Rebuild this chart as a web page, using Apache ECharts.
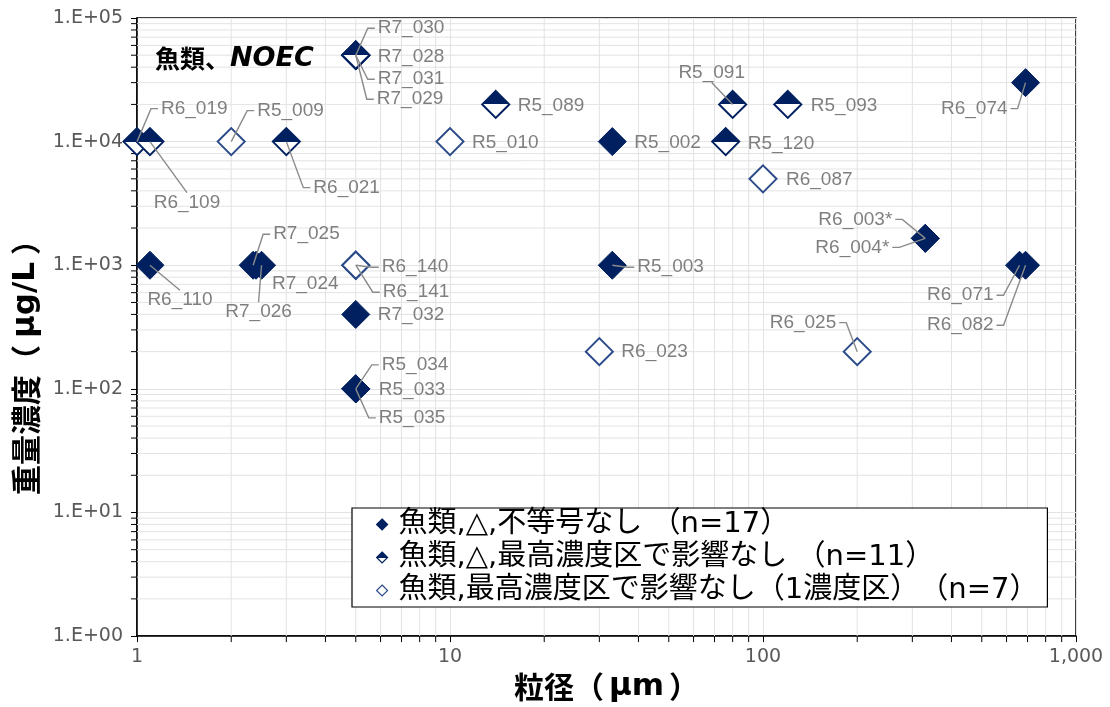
<!DOCTYPE html>
<html>
<head>
<meta charset="utf-8">
<script src="https://cdn.jsdelivr.net/npm/echarts@6/dist/echarts.min.js"></script>
<style>
html, body { margin: 0; padding: 0; background: #fff; }
#chart { width: 1110px; height: 707px; }
</style>
</head>
<body>
<div id="chart"></div>
<script>
// 魚類 NOEC: 粒径 (μm) vs 重量濃度 (μg/L)

// 不等号なし
const filledNames = ['R6_110', 'R7_025', 'R7_024', 'R7_026', 'R7_032', 'R5_034', 'R5_033', 'R5_035',
  'R5_002', 'R5_003', 'R6_074', 'R6_003*', 'R6_004*', 'R6_071', 'R6_082'];
const filledSize = [1.1, 2.35, 2.4, 2.5, 5, 5, 5, 5, 33, 33, 690, 330, 330, 660, 690];
const filledConc = [1000, 1000, 1000, 1000, 400, 100, 100, 100, 10000, 1000, 30000, 1650, 1650, 1000, 1000];

// 最高濃度区で影響なし
const halfNames = ['R6_019', 'R6_109', 'R6_021', 'R7_030', 'R7_028', 'R7_031', 'R7_029',
  'R5_089', 'R5_091', 'R5_093', 'R5_120'];
const halfSize = [1, 1.1, 3, 5, 5, 5, 5, 14, 80, 120, 76];
const halfConc = [10000, 10000, 10000, 50000, 50000, 50000, 50000, 20000, 20000, 20000, 10000];

// 最高濃度区で影響なし（1濃度区）
const openNames = ['R5_009', 'R5_010', 'R6_140', 'R6_141', 'R6_087', 'R6_023', 'R6_025'];
const openSize = [2, 10, 5, 5, 100, 30, 200];
const openConc = [10000, 10000, 1000, 1000, 5000, 200, 200];

const seriesNames = [
  '魚類,△,不等号なし （n=17）',
  '魚類,△,最高濃度区で影響なし （n=11）',
  '魚類,最高濃度区で影響なし（1濃度区）　（n=7）'
];
const xTickLabels = ['1', '10', '100', '1,000'];
const yTickLabels = ['1.E+00', '1.E+01', '1.E+02', '1.E+03', '1.E+04', '1.E+05'];

// label placement: [dx, dy, align, leader line]
const labelPlace = {
  'R6_019': [24, -33, 'left', 1],
  'R6_109': [37, 61, 'center', 1],
  'R5_009': [26, -31, 'left', 1],
  'R6_021': [27, 46, 'left', 1],
  'R7_030': [22, -27, 'left', 1],
  'R7_028': [22, 2, 'left', 0],
  'R7_031': [22, 24, 'left', 1],
  'R7_029': [21, 44, 'left', 1],
  'R5_089': [22, 1, 'left', 0],
  'R5_010': [22, 1, 'left', 0],
  'R5_002': [22, 1, 'left', 0],
  'R5_091': [-21, -32, 'center', 1],
  'R5_120': [22, 2, 'left', 0],
  'R5_093': [23, 1, 'left', 0],
  'R6_087': [23, 1, 'left', 0],
  'R6_074': [-18, 26, 'right', 1],
  'R6_003*': [-33, -19, 'right', 1],
  'R6_004*': [-36, 9, 'right', 1],
  'R6_071': [-26, 30, 'right', 1],
  'R6_082': [-32, 60, 'right', 1],
  'R6_025': [-21, -29, 'right', 1],
  'R6_110': [30, 35, 'center', 1],
  'R7_025': [20, -31, 'left', 1],
  'R7_024': [16, 19, 'left', 0],
  'R7_026': [-3, 47, 'center', 1],
  'R6_140': [26, 2, 'left', 1],
  'R6_141': [27, 27, 'left', 1],
  'R7_032': [22, 0, 'left', 0],
  'R5_034': [26, -24, 'left', 1],
  'R5_033': [23, 1, 'left', 0],
  'R5_035': [23, 29, 'left', 1],
  'R5_003': [25, 2, 'left', 1],
  'R6_023': [22, 0, 'left', 0]
};

const NAVY = '#002060';
const OPEN_EDGE = '#2b4a88';
const GRID = '#e3e3e3';

function pairs(xs, ys, names) {
  return xs.map((x, i) => ({ value: [x, ys[i]], name: names[i] }));
}

const labelItems = []
  .concat(pairs(filledSize, filledConc, filledNames))
  .concat(pairs(halfSize, halfConc, halfNames))
  .concat(pairs(openSize, openConc, openNames));

// minor gridlines / ticks at 2..9 of each decade
const minorData = [];
for (let k = 0; k < 3; k++) for (let d = 2; d <= 9; d++) minorData.push([d * Math.pow(10, k), 1, 0]);
for (let k = 0; k < 5; k++) for (let d = 2; d <= 9; d++) minorData.push([1, d * Math.pow(10, k), 1]);

function renderMinor(params, api) {
  const cs = params.coordSys;
  const p = api.coord([api.value(0), api.value(1)]);
  const bottom = cs.y + cs.height;
  if (api.value(2) === 0) {
    return { type: 'group', children: [
      { type: 'line', shape: { x1: p[0], y1: cs.y, x2: p[0], y2: bottom }, style: { stroke: GRID, lineWidth: 1 } },
      { type: 'line', shape: { x1: p[0], y1: bottom, x2: p[0], y2: bottom + 6 }, style: { stroke: '#000', lineWidth: 1 } }
    ] };
  }
  return { type: 'group', children: [
    { type: 'line', shape: { x1: cs.x, y1: p[1], x2: cs.x + cs.width, y2: p[1] }, style: { stroke: GRID, lineWidth: 1 } },
    { type: 'line', shape: { x1: cs.x - 6, y1: p[1], x2: cs.x, y2: p[1] }, style: { stroke: '#000', lineWidth: 1 } }
  ] };
}

function renderLabel(params, api) {
  const item = labelItems[params.dataIndex];
  const pl = labelPlace[item.name] || [22, 0, 'left', 0];
  const p = api.coord([api.value(0), api.value(1)]);
  const tx = p[0] + pl[0], ty = p[1] + pl[1];
  const children = [];
  if (pl[3]) {
    let pts;
    if (pl[2] === 'center') {
      pts = [p, [tx, pl[1] > 0 ? ty - 10 : ty + 10]];
    } else {
      const s = pl[2] === 'left' ? -1 : 1;
      pts = [p, [tx + s * 10, ty], [tx + s * 3, ty]];
    }
    children.push({ type: 'polyline', shape: { points: pts },
      style: { stroke: '#8a8a8a', lineWidth: 1.4, fill: null } });
  }
  children.push({ type: 'text', x: tx, y: ty,
    style: { text: item.name, fill: '#7f7f7f', font: '19px "Liberation Sans", Arial, sans-serif',
      align: pl[2], verticalAlign: 'middle' } });
  return { type: 'group', children };
}

const axisFont = { fontFamily: '"DejaVu Sans", Verdana, sans-serif', fontSize: 19, color: '#595959' };
const nameRichX = {
  c: { fontFamily: '"Noto Sans CJK JP"', fontWeight: 'bold', fontSize: 30, color: '#000' },
  l: { fontFamily: '"DejaVu Sans"', fontWeight: 'bold', fontSize: 31, color: '#000', padding: [0, 5, 0, 5] }
};
const nameRichY = {
  c: { fontFamily: '"Noto Sans CJK JP"', fontWeight: 'bold', fontSize: 30, color: '#000' },
  l: { fontFamily: '"DejaVu Sans"', fontWeight: 'bold', fontSize: 31, color: '#000', padding: [0, 7, 0, 7] }
};

const chart = echarts.init(document.getElementById('chart'));
chart.setOption({
  animation: false,
  backgroundColor: '#fff',
  title: {
    text: '{a|魚類、}{b|NOEC}',
    left: 150, top: 40,
    textStyle: { rich: {
      a: { fontFamily: '"Noto Sans CJK JP"', fontWeight: 'bold', fontSize: 25, color: '#000' },
      b: { fontFamily: '"DejaVu Sans"', fontWeight: 'bold', fontStyle: 'italic', fontSize: 27, color: '#000' }
    } }
  },
  grid: { left: 137, right: 34, top: 18, bottom: 62, show: true, borderColor: '#000', borderWidth: 1.5, backgroundColor: '#fff' },
  legend: {
    orient: 'vertical', left: 352, top: 508,
    padding: [2, 9, 2, 24], itemGap: 4,
    itemWidth: 11, itemHeight: 11,
    itemStyle: { borderWidth: 1.2 },
    backgroundColor: '#fff', borderColor: '#000', borderWidth: 1.2, borderRadius: 0,
    textStyle: { fontFamily: '"DejaVu Sans", "Noto Sans CJK JP"', fontSize: 29, color: '#000', padding: [0, 0, 0, 6] },
    data: seriesNames
  },
  xAxis: {
    type: 'log', logBase: 10, min: 1, max: 1000,
    name: '{c|粒径（}{l|μm}{c|）}', nameLocation: 'middle', nameGap: 30,
    nameTextStyle: { rich: nameRichX },
    axisLine: { lineStyle: { color: '#000', width: 1.5 } },
    axisTick: { show: true, inside: false, length: 6, lineStyle: { color: '#000' } },
    axisLabel: Object.assign({ margin: 11, formatter: v => xTickLabels[Math.round(Math.log10(v))] }, axisFont),
    splitLine: { show: true, lineStyle: { color: GRID, width: 1 } }
  },
  yAxis: {
    type: 'log', logBase: 10, min: 1, max: 100000,
    name: '{c|重量濃度（}{l|μg/L}{c|）}', nameLocation: 'middle', nameGap: 96, nameRotate: 90,
    nameTextStyle: { rich: nameRichY, padding: [0, 66, 0, 0] },
    axisLine: { lineStyle: { color: '#000', width: 1.5 } },
    axisTick: { show: true, inside: false, length: 6, lineStyle: { color: '#000' } },
    axisLabel: Object.assign({ margin: 14, formatter: v => yTickLabels[Math.round(Math.log10(v))] }, axisFont),
    splitLine: { show: true, lineStyle: { color: GRID, width: 1 } }
  },
  series: [
    { type: 'custom', name: 'minor', silent: true, z: 1, renderItem: renderMinor, data: minorData },
    {
      name: seriesNames[0], type: 'scatter', symbol: 'diamond', symbolSize: 28, clip: false, z: 3,
      itemStyle: { color: NAVY, borderColor: NAVY, borderWidth: 1, opacity: 1 },
      data: filledSize.map((x, i) => [x, filledConc[i]])
    },
    {
      name: seriesNames[1], type: 'scatter', symbol: 'diamond', symbolSize: 27, clip: false, z: 3,
      itemStyle: {
        color: { type: 'linear', x: 0, y: 0, x2: 0, y2: 1, colorStops: [
          { offset: 0, color: NAVY }, { offset: 0.5, color: NAVY },
          { offset: 0.5, color: '#fff' }, { offset: 1, color: '#fff' }
        ] },
        borderColor: NAVY, borderWidth: 2, opacity: 1
      },
      data: halfSize.map((x, i) => [x, halfConc[i]])
    },
    {
      name: seriesNames[2], type: 'scatter', symbol: 'diamond', symbolSize: 27, clip: false, z: 3,
      itemStyle: { color: '#fff', borderColor: OPEN_EDGE, borderWidth: 2, opacity: 1 },
      data: openSize.map((x, i) => [x, openConc[i]])
    },
    { type: 'custom', name: 'labels', silent: true, z: 5, renderItem: renderLabel,
      data: labelItems.map(d => d.value) }
  ]
});
</script>
</body>
</html>
